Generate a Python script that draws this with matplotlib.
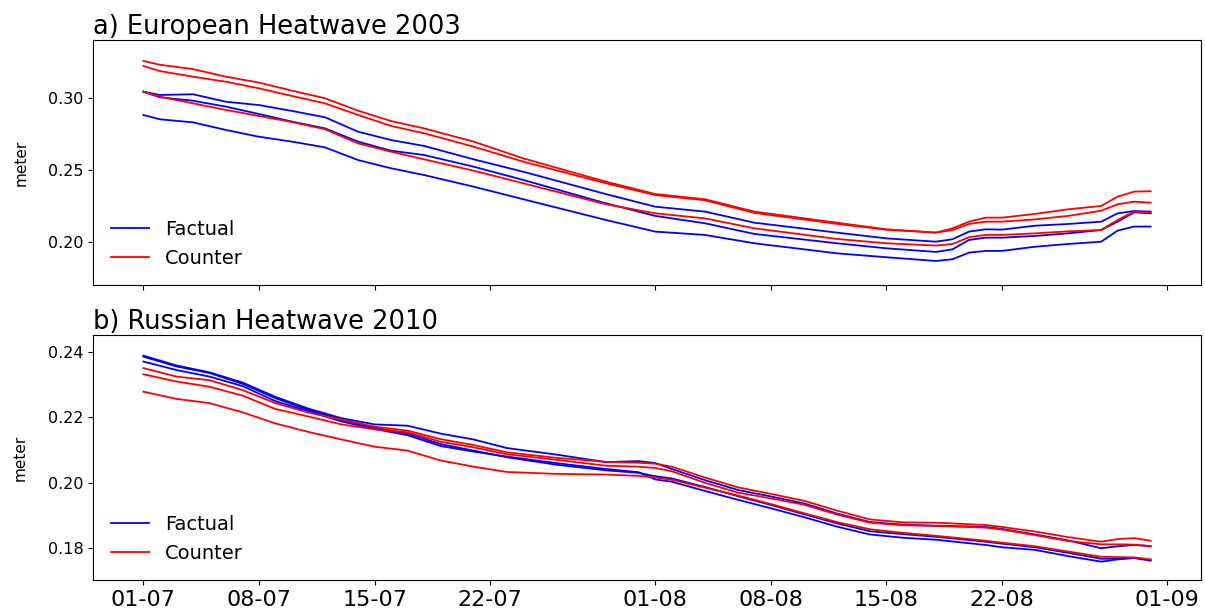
import numpy as np
import matplotlib
matplotlib.use("Agg")
import matplotlib.pyplot as plt
import matplotlib.dates as mdates

# ---------------- data ----------------
# day offsets from 1 July
days_eu = [0, 1, 3, 5, 7, 9, 11, 13, 15, 17, 20, 23, 28, 31, 34, 37, 42, 45,
           48, 49, 50, 51, 52, 54, 56, 58, 59, 60, 61]
eu_factual_1 = [.3046, .3023, .3028, .2976, .2953, .2912, .2868, .2768, .2710, .2669,
                .2576, .2490, .2335, .2247, .2213, .2136, .2067, .2027, .2004, .2021,
                .2074, .2090, .2088, .2115, .2127, .2143, .2201, .2217, .2213]
eu_factual_2 = [.3046, .3007, .2983, .2942, .2891, .2838, .2791, .2699, .2636, .2606,
                .2525, .2433, .2271, .2183, .2132, .2058, .1993, .1958, .1933, .1951,
                .2016, .2032, .2032, .2044, .2062, .2085, .2143, .2208, .2201]
eu_factual_3 = [.2884, .2854, .2833, .2780, .2733, .2699, .2659, .2571, .2514, .2467,
                .2386, .2299, .2155, .2074, .2051, .1993, .1923, .1896, .1870, .1882,
                .1928, .1940, .1940, .1969, .1988, .2004, .2081, .2109, .2109]
eu_counter_1 = [.3259, .3233, .3203, .3150, .3109, .3053, .3000, .2914, .2842, .2791,
                .2699, .2583, .2421, .2335, .2299, .2213, .2136, .2090, .2067, .2097,
                .2143, .2171, .2171, .2197, .2229, .2252, .2317, .2352, .2354]
eu_counter_2 = [.3224, .3189, .3150, .3115, .3069, .3016, .2965, .2884, .2808, .2757,
                .2664, .2560, .2410, .2328, .2292, .2204, .2128, .2087, .2067, .2085,
                .2127, .2143, .2143, .2159, .2183, .2219, .2264, .2282, .2275]
eu_counter_3 = [.3046, .3011, .2965, .2919, .2877, .2835, .2785, .2687, .2629, .2576,
                .2497, .2410, .2264, .2201, .2166, .2097, .2023, .1993, .1977, .1988,
                .2035, .2051, .2051, .2062, .2076, .2085, .2155, .2213, .2206]

days_ru = [0, 2, 4, 6, 8, 10, 12, 14, 16, 18, 20, 22, 25, 28, 30, 31, 32, 34, 36,
           38, 40, 42, 44, 46, 48, 51, 52, 54, 56, 58, 59, 60, 61]
ru_factual_1 = [.2388, .2358, .2337, .2306, .2262, .2226, .2197, .2178, .2174, .2150,
                .2132, .2106, .2086, .2063, .2066, .2060, .2042, .2008, .1978, .1958,
                .1937, .1906, .1880, .1872, .1869, .1865, .1859, .1842, .1824, .1800,
                .1806, .1810, .1806]
ru_factual_2 = [.2385, .2355, .2335, .2302, .2258, .2222, .2192, .2168, .2150, .2118,
                .2098, .2078, .2055, .2038, .2030, .2020, .2013, .1987, .1959, .1932,
                .1904, .1876, .1852, .1843, .1835, .1820, .1814, .1803, .1786, .1768,
                .1768, .1771, .1764]
ru_factual_3 = [.2370, .2344, .2324, .2295, .2249, .2218, .2187, .2164, .2145, .2112,
                .2095, .2080, .2060, .2042, .2032, .2010, .2003, .1975, .1948, .1922,
                .1895, .1866, .1842, .1832, .1826, .1810, .1803, .1795, .1776, .1759,
                .1766, .1770, .1762]
ru_counter_1 = [.2350, .2324, .2313, .2283, .2243, .2214, .2193, .2171, .2159, .2133,
                .2115, .2093, .2076, .2064, .2061, .2058, .2049, .2016, .1986, .1966,
                .1945, .1915, .1888, .1879, .1878, .1871, .1865, .1851, .1834, .1820,
                .1828, .1831, .1823]
ru_counter_2 = [.2331, .2309, .2293, .2266, .2225, .2202, .2178, .2163, .2154, .2125,
                .2108, .2087, .2070, .2052, .2049, .2045, .2035, .2000, .1970, .1952,
                .1933, .1903, .1878, .1870, .1868, .1863, .1857, .1840, .1822, .1812,
                .1812, .1811, .1807]
ru_counter_3 = [.2278, .2256, .2243, .2215, .2181, .2155, .2132, .2110, .2098, .2068,
                .2049, .2033, .2027, .2025, .2021, .2016, .2009, .1985, .1961, .1935,
                .1907, .1880, .1858, .1847, .1838, .1823, .1817, .1806, .1790, .1774,
                .1773, .1772, .1766]

titles = ["a) European Heatwave 2003", "b) Russian Heatwave 2010"]
legend_labels = ["Factual", "Counter"]
start_date = "2003-07-01"


def to_dates(days):
    return np.datetime64(start_date) + np.array(days).astype("timedelta64[D]")


fig = plt.figure(figsize=(12.05, 6.16), dpi=100)
ax1 = fig.add_axes([0.0772, 0.5373, 0.9195, 0.3978])
ax2 = fig.add_axes([0.0772, 0.0584, 0.9195, 0.3978], sharex=ax1)

panels = [
    (ax1, days_eu, [eu_factual_1, eu_factual_2, eu_factual_3],
     [eu_counter_1, eu_counter_2, eu_counter_3], (0.1703, 0.3405), [0.20, 0.25, 0.30]),
    (ax2, days_ru, [ru_factual_1, ru_factual_2, ru_factual_3],
     [ru_counter_1, ru_counter_2, ru_counter_3], (0.1703, 0.2451), [0.18, 0.20, 0.22, 0.24]),
]

for i, (ax, days, facts, counters, ylim, yticks) in enumerate(panels):
    d = to_dates(days)
    for k, s in enumerate(facts):
        ax.plot(d, s, color="blue", lw=1.3, label=legend_labels[0] if k == 0 else None)
    for k, s in enumerate(counters):
        ax.plot(d, s, color="red", lw=1.3, label=legend_labels[1] if k == 0 else None)
    ax.set_ylim(*ylim)
    ax.set_yticks(yticks)
    ax.set_yticklabels([f"{t:.2f}" for t in yticks])
    ax.tick_params(axis="y", labelsize=11.5)
    ax.tick_params(axis="x", labelsize=16)
    ax.set_ylabel("meter", fontsize=11, labelpad=14)
    ax.set_title(titles[i], loc="left", fontsize=18.5, pad=4)
    ax.legend(loc="lower left", frameon=False, fontsize=14)

ax2.xaxis.set_major_locator(mdates.DayLocator(bymonthday=[1, 8, 15, 22]))
ax2.xaxis.set_major_formatter(mdates.DateFormatter("%d-%m"))
plt.setp(ax1.get_xticklabels(), visible=False)

fig.savefig("out.png", dpi=100)
